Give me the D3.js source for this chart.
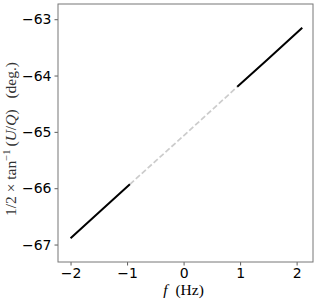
<!DOCTYPE html>
<html>
<head>
<meta charset="utf-8">
<script src="https://d3js.org/d3.v7.min.js"></script>
<style>
  body { margin: 0; background: #fff; }
  .tick text { font-family: "DejaVu Sans", sans-serif; font-size: 14px; fill: #000; }
</style>
</head>
<body>
<div id="chart"></div>
<script>
// solid segment at negative frequencies
const lowX = [-2.0, -1.5, -0.95];
const lowY = [-66.89, -66.43, -65.93];
// dashed bridge across the gap
const gapX = [-0.95, 0.0, 0.95];
const gapY = [-65.93, -65.07, -64.20];
// solid segment at positive frequencies
const highX = [0.95, 1.5, 2.1];
const highY = [-64.20, -63.70, -63.15];

const xTicks = [-2, -1, 0, 1, 2];
const yTicks = [-67, -66, -65, -64, -63];

const W = 317, H = 301;
const margin = { top: 4, right: 4, bottom: 39, left: 58 };
const w = W - margin.left - margin.right;
const h = H - margin.top - margin.bottom;

const svg = d3.select('#chart').append('svg')
  .attr('width', W)
  .attr('height', H);

const g = svg.append('g')
  .attr('transform', `translate(${margin.left},${margin.top})`);

const x = d3.scaleLinear().domain([-2.222, 2.29]).range([0, w]);
const y = d3.scaleLinear().domain([-67.31, -62.73]).range([h, 0]);

const line = d3.line()
  .x(d => x(d[0]))
  .y(d => y(d[1]));

const zip = (a, b) => a.map((v, i) => [v, b[i]]);

g.append('path')
  .datum(zip(gapX, gapY))
  .attr('d', line)
  .attr('fill', 'none')
  .attr('stroke', '#cccccc')
  .attr('stroke-width', 1.7)
  .attr('stroke-dasharray', '5.5,2.5');

[zip(lowX, lowY), zip(highX, highY)].forEach(seg => {
  g.append('path')
    .datum(seg)
    .attr('d', line)
    .attr('fill', 'none')
    .attr('stroke', '#000')
    .attr('stroke-width', 2);
});

// axes
const xAxis = g.append('g')
  .attr('transform', `translate(0,${h})`)
  .call(d3.axisBottom(x).tickValues(xTicks).tickSize(3.5).tickPadding(3)
    .tickFormat(d => d < 0 ? '\u2212' + Math.abs(d) : d));

const yAxis = g.append('g')
  .call(d3.axisLeft(y).tickValues(yTicks).tickSize(3.5).tickPadding(3)
    .tickFormat(d => '\u2212' + Math.abs(d)));

[xAxis, yAxis].forEach(a => {
  a.select('.domain').remove();
  a.selectAll('.tick line').attr('stroke', '#333').attr('stroke-width', 0.8);
});

// frame
g.append('rect')
  .attr('x', 0).attr('y', 0)
  .attr('width', w).attr('height', h)
  .attr('fill', 'none')
  .attr('stroke', '#777')
  .attr('stroke-width', 1);

// x label
const xl = svg.append('text')
  .attr('x', margin.left + x(0))
  .attr('y', 295)
  .attr('text-anchor', 'middle')
  .style('font-family', '"Liberation Serif", serif')
  .style('font-size', '15.5px');
xl.append('tspan').style('font-style', 'italic').text('f');
xl.append('tspan').text('\u2002(Hz)');

// y label
const yl = svg.append('text')
  .attr('transform', `translate(16,139) rotate(-90)`)
  .attr('text-anchor', 'middle')
  .style('font-family', '"Liberation Serif", serif')
  .style('font-size', '15.5px')
  .attr('fill', '#333');
yl.append('tspan').text('1/2 \u00d7 tan');
yl.append('tspan').attr('dy', -6).style('font-size', '10.5px').text('\u22121');
yl.append('tspan').attr('dy', 6).text('\u2009(');
yl.append('tspan').style('font-style', 'italic').text('U');
yl.append('tspan').text('/');
yl.append('tspan').style('font-style', 'italic').text('Q');
yl.append('tspan').text(')\u2002\u2009(deg.)');
</script>
</body>
</html>
